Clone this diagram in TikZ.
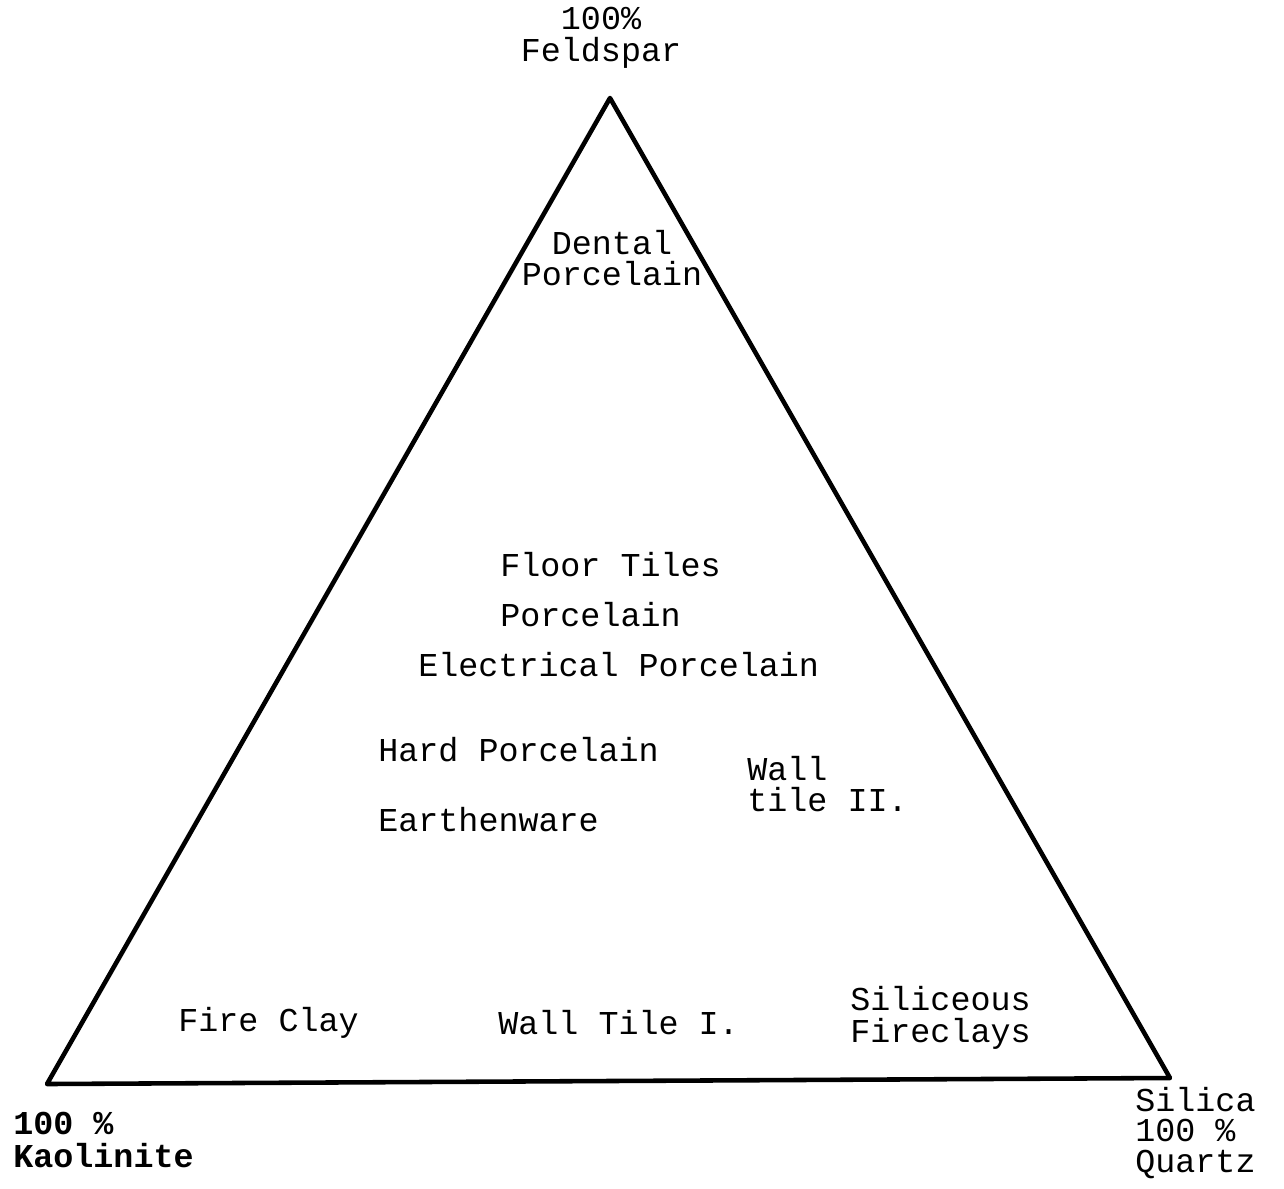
\documentclass[tikz,border=0pt]{standalone}
\usepackage{fontspec}
\setmonofont{Liberation Mono}
\usetikzlibrary{positioning}
\tikzset{
  tri/.style={line width=2.6pt,line join=round},
  lbl/.style={font=\ttfamily\fontsize{19}{18}\selectfont,inner sep=0pt,
    anchor=west,align=left},
  clbl/.style={lbl,anchor=center,align=center},
}
\begin{document}
\begin{tikzpicture}[x=0.02cm,y=-0.02cm]
  \useasboundingbox (0,0) rectangle (1284,1188);
  \coordinate (feld) at (610,98);
  \coordinate (kaol) at (47,1084);
  \coordinate (quar) at (1170,1078);
  \draw[tri] (feld) -- (kaol) -- (quar) -- cycle;
  % corner labels
  \node[clbl] (feldlbl) at (601,38) {100\%\\Feldspar};
  \node[lbl,font=\ttfamily\bfseries\fontsize{19}{19}\selectfont] (kaollbl) at (13,1140) {100 \%\\Kaolinite};
  \node[lbl,font=\ttfamily\fontsize{19}{17.5}\selectfont] (quarlbl) at (1135,1133) {Silica\\100 \%\\Quartz};
  % fields inside
  \node[clbl] (dental) at (612,258) {Dental\\Porcelain};
  \node[lbl] (floor) at (500,565) {Floor Tiles};
  \node[lbl] (porc) at (500,615) {Porcelain};
  \node[lbl] (elec) at (418,665) {Electrical Porcelain};
  \node[lbl] (hard) at (378,750) {Hard Porcelain};
  \node[lbl] (earth) at (378,820) {Earthenware};
  \node[lbl] (walltwo) at (747,784) {Wall\\tile II.};
  \node[lbl] (fire) at (178,1023) {Fire Clay};
  \node[lbl] (wallone) at (498,1023) {Wall Tile I.};
  \node[lbl] (silic) at (850,1018) {Siliceous\\Fireclays};
\end{tikzpicture}
\end{document}
